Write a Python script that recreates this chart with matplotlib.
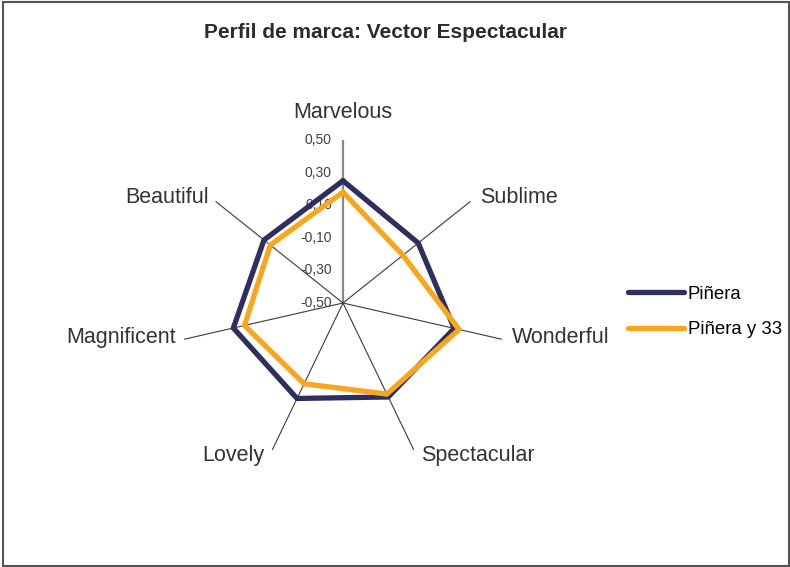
import numpy as np
import matplotlib
matplotlib.use("Agg")
import matplotlib.pyplot as plt
from matplotlib.patches import Rectangle

plt.rcParams['font.family'] = ['Liberation Sans', 'DejaVu Sans']

# -----------------------------
# Data
# -----------------------------
categories = ['Marvelous', 'Sublime', 'Wonderful', 'Spectacular',
              'Lovely', 'Magnificent', 'Beautiful']
pinera = [0.25, 0.09, 0.20, 0.14, 0.15, 0.19, 0.12]
pinera_33 = [0.18, -0.03, 0.23, 0.12, 0.05, 0.12, 0.07]
series_names = ['Piñera', 'Piñera y 33']
r_ticks = [-0.50, -0.30, -0.10, 0.10, 0.30, 0.50]

navy = '#2E2E5F'
orange = '#F8A61C'

# label offsets (points) and alignment around the spoke ends
label_pos = [((0, 20), 'center'), ((7, 3), 'left'), ((7, 1), 'left'),
             ((5, -4), 'left'), ((-6, -4), 'right'), ((-6, 1), 'right'),
             ((-5, 3), 'right')]

# -----------------------------
# Figure
# -----------------------------
fig = plt.figure(figsize=(7.9, 5.67), dpi=100)
fig.patches.append(Rectangle((3 / 790, 1 / 567), 786 / 790, 564 / 567,
                             transform=fig.transFigure, fill=False,
                             edgecolor='#555555', linewidth=1.5))

ax = fig.add_axes([180 / 790, 101 / 567, 326 / 790, 326 / 567], polar=True)
ax.set_theta_zero_location('N')
ax.set_theta_direction(-1)
ax.set_rlim(-0.5, 0.5)
ax.spines['polar'].set_visible(False)
ax.grid(False)
ax.set_xticks([])
ax.set_yticks([])

n = len(categories)
angles = np.linspace(0, 2 * np.pi, n, endpoint=False)

# spokes
for i, th in enumerate(angles):
    if i == 0:
        ax.plot([th, th], [-0.5, 0.5], color='#8A8A8A', lw=1.6, zorder=1)
    else:
        ax.plot([th, th], [-0.5, 0.5], color='#3A3A3A', lw=0.8, zorder=1)

# value labels on the vertical axis
for t in r_ticks:
    ax.annotate(f"{t:.2f}".replace('.', ','), xy=(0, t), xytext=(-8, 0),
                textcoords='offset points', ha='right', va='center',
                fontsize=10, color='#404040')

# category labels
for th, name, (off, ha) in zip(angles, categories, label_pos):
    ax.annotate(name, xy=(th, 0.5), xytext=off, textcoords='offset points',
                ha=ha, va='center', fontsize=15.5, color='#333333')

# series
ang_closed = np.append(angles, angles[0])
for vals, color, label in [(pinera, navy, series_names[0]),
                           (pinera_33, orange, series_names[1])]:
    v = np.append(vals, vals[0])
    ax.plot(ang_closed, v, color=color, lw=3.8, label=label,
            solid_joinstyle='miter', solid_capstyle='round', zorder=3)

fig.text(385 / 790, 1 - 32 / 567, "Perfil de marca: Vector Espectacular",
         ha='center', va='center', fontsize=15, fontweight='bold',
         color='#2B2B2B')

fig.legend(loc='center left', bbox_to_anchor=(628 / 790, 1 - 312 / 567),
           frameon=False, fontsize=13.4, handlelength=3.0,
           handletextpad=0.2, labelspacing=1.0, borderpad=0,
           borderaxespad=0)

fig.savefig('out.png', dpi=100)
